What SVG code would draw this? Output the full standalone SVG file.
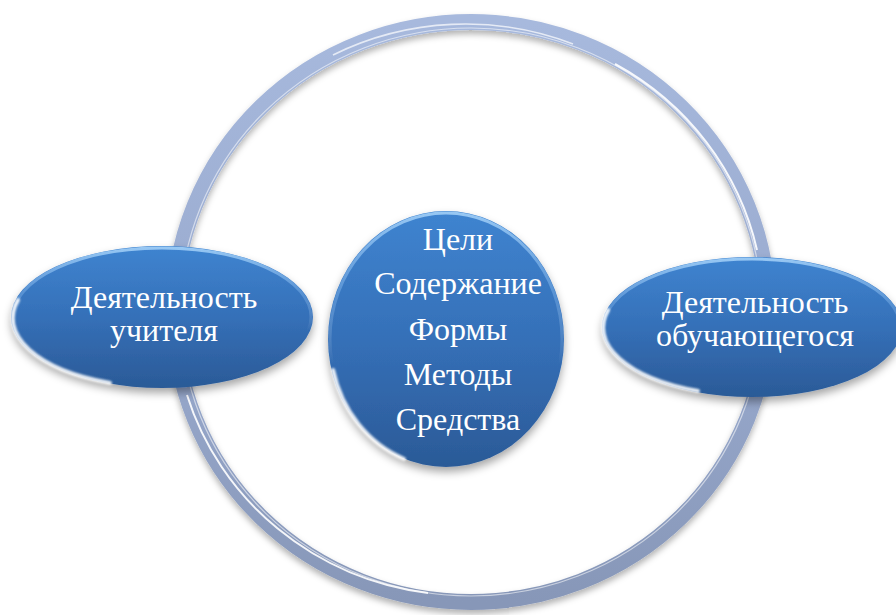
<svg xmlns="http://www.w3.org/2000/svg" width="896" height="615" viewBox="0 0 896 615">
  <defs>
    <style>
      .lbl { font-family: "Liberation Serif", "Times New Roman", serif; font-size: 32px; fill: #ffffff; text-anchor: middle; }
      .base { fill: url(#blueFill); filter: url(#shadow); }
      .rim { fill: none; stroke: url(#rimGrad); stroke-width: 3; }
      .glint { fill: none; stroke: #ffffff; stroke-width: 4; stroke-linecap: round; filter: url(#soft); opacity: 0.9; }
    </style>
    <linearGradient id="blueFill" x1="0" y1="0" x2="0" y2="1">
      <stop offset="0" stop-color="#3f84d0"/>
      <stop offset="0.5" stop-color="#3570b8"/>
      <stop offset="1" stop-color="#2b5a97"/>
    </linearGradient>
    <linearGradient id="rimGrad" x1="0" y1="0" x2="0" y2="1">
      <stop offset="0" stop-color="#9ccbf5" stop-opacity="0.95"/>
      <stop offset="0.35" stop-color="#7fb3ea" stop-opacity="0.4"/>
      <stop offset="0.6" stop-color="#ffffff" stop-opacity="0"/>
      <stop offset="1" stop-color="#ffffff" stop-opacity="0"/>
    </linearGradient>
    <linearGradient id="ringGrad" x1="0" y1="0" x2="0" y2="1">
      <stop offset="0" stop-color="#a7b9dd"/>
      <stop offset="0.5" stop-color="#9aabcf"/>
      <stop offset="1" stop-color="#8797b8"/>
    </linearGradient>
    <filter id="shadow" x="-20%" y="-20%" width="140%" height="150%">
      <feDropShadow dx="0" dy="5" stdDeviation="4" flood-color="#000000" flood-opacity="0.35"/>
    </filter>
    <filter id="ringShadow" x="-10%" y="-10%" width="120%" height="120%">
      <feDropShadow dx="0" dy="4" stdDeviation="3" flood-color="#000000" flood-opacity="0.3"/>
    </filter>
    <filter id="soft" x="-20%" y="-20%" width="140%" height="140%">
      <feGaussianBlur stdDeviation="1.3"/>
    </filter>
  </defs>

  <rect width="896" height="615" fill="#ffffff"/>

  <g id="connectors">
    <g id="ring">
      <ellipse cx="471" cy="312" rx="297" ry="290" fill="none" stroke="url(#ringGrad)" stroke-width="16" filter="url(#ringShadow)"/>
      <ellipse cx="471" cy="312" rx="291" ry="284" fill="none" stroke="#ffffff" stroke-width="1.2" opacity="0.55"/>
      <path d="M 187 395 A 291 284 0 0 0 428 593" fill="none" stroke="#ffffff" stroke-width="2" opacity="0.9"/>
      <path d="M 615 64 A 291 284 0 0 1 757 250" fill="none" stroke="#ffffff" stroke-width="2" opacity="0.9"/>
      <path d="M 333 55 A 293 286 0 0 1 573 44" fill="none" stroke="#ffffff" stroke-width="1.6" opacity="0.7"/>
    </g>
  </g>

  <g id="node-left">
    <ellipse class="base" cx="162" cy="317" rx="151" ry="71"/>
    <ellipse class="rim" cx="162" cy="317" rx="149" ry="69"/>
    <path class="glint" d="M 18 300 A 149 69 0 0 0 110 383"/>
    <text class="lbl" x="164" y="308">Деятельность</text>
    <text class="lbl" x="164" y="341">учителя</text>
  </g>

  <g id="node-right">
    <ellipse class="base" cx="752" cy="327" rx="150" ry="70"/>
    <ellipse class="rim" cx="752" cy="327" rx="148" ry="68"/>
    <path class="glint" d="M 608 310 A 148 68 0 0 0 698 391"/>
    <text class="lbl" x="755" y="313">Деятельность</text>
    <text class="lbl" x="755" y="346">обучающегося</text>
  </g>

  <g id="node-center">
    <ellipse class="base" cx="446" cy="339" rx="118" ry="128"/>
    <ellipse class="rim" cx="446" cy="339" rx="116" ry="126"/>
    <path class="glint" d="M 333 370 A 116 126 0 0 0 404 459"/>
    <text class="lbl" x="458" y="250">Цели</text>
    <text class="lbl" x="458" y="294">Содержание</text>
    <text class="lbl" x="458" y="340">Формы</text>
    <text class="lbl" x="458" y="385">Методы</text>
    <text class="lbl" x="458" y="430">Средства</text>
  </g>
</svg>
